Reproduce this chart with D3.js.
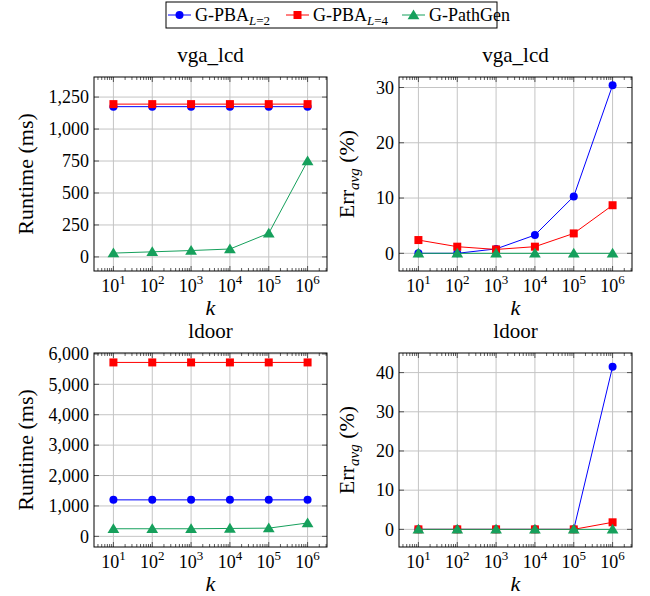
<!DOCTYPE html>
<html lang="en">
  <head>
    <meta charset="UTF-8" />
    <title>Runtime and error vs k</title>
    <script src="https://cdnjs.cloudflare.com/ajax/libs/d3/7.8.5/d3.min.js"></script>
    <style>
      body { margin: 0; background: #fff; }
      text { font-family: "Liberation Serif", "Times New Roman", serif; fill: #000; }
    </style>
  </head>
  <body>
    <div id="chart"></div>
    <script>
      // values
      const ks = [1e1, 1e2, 1e3, 1e4, 1e5, 1e6];
      const seriesNames = ["G-PBA", "G-PBA", "G-PathGen"];
      const seriesSubs = ["L=2", "L=4", ""];
      const colors = ["#0000ff", "#ff0000", "#16a05c"];
      const markers = ["circle", "square", "triangle"];

      const vgaRuntimePba2 = [1175, 1175, 1175, 1175, 1175, 1175];
      const vgaRuntimePba4 = [1195, 1195, 1195, 1195, 1195, 1195];
      const vgaRuntimePath = [30, 40, 50, 62, 185, 750];

      const vgaErrPba2 = [0, 0, 0.8, 3.3, 10.3, 30.4];
      const vgaErrPba4 = [2.4, 1.2, 0.7, 1.2, 3.6, 8.7];
      const vgaErrPath = [0, 0, 0, 0, 0, 0];

      const ldoorRuntimePba2 = [1200, 1200, 1200, 1200, 1200, 1200];
      const ldoorRuntimePba4 = [5720, 5720, 5720, 5720, 5720, 5720];
      const ldoorRuntimePath = [250, 250, 250, 260, 270, 440];

      const ldoorErrPba2 = [0, 0, 0, 0, 0, 41.5];
      const ldoorErrPba4 = [0, 0, 0, 0, 0, 1.8];
      const ldoorErrPath = [0, 0, 0, 0, 0, 0];

      const runtimeTicksVga = [0, 250, 500, 750, 1000, 1250];
      const errTicksVga = [0, 10, 20, 30];
      const runtimeTicksLdoor = [0, 1000, 2000, 3000, 4000, 5000, 6000];
      const errTicksLdoor = [0, 10, 20, 30, 40];

      const width = 650;
      const height = 596;

      const svg = d3
        .select("#chart")
        .append("svg")
        .attr("width", width)
        .attr("height", height);

      const panels = [
        { title: "vga_lcd", ylabel: "runtime", left: 94, top: 77, yDomain: [-110, 1407], ticks: runtimeTicksVga,
          data: [vgaRuntimePba2, vgaRuntimePba4, vgaRuntimePath] },
        { title: "vga_lcd", ylabel: "err", left: 399, top: 77, yDomain: [-3.2, 31.9], ticks: errTicksVga,
          data: [vgaErrPba2, vgaErrPba4, vgaErrPath] },
        { title: "ldoor", ylabel: "runtime", left: 94, top: 353, yDomain: [-350, 6030], ticks: runtimeTicksLdoor,
          data: [ldoorRuntimePba2, ldoorRuntimePba4, ldoorRuntimePath] },
        { title: "ldoor", ylabel: "err", left: 399, top: 353, yDomain: [-4.5, 45], ticks: errTicksLdoor,
          data: [ldoorErrPba2, ldoorErrPba4, ldoorErrPath] },
      ];
      const pw = 233;
      const ph = 194;

      const fmt = d3.format(",");

      function drawMarker(g, type, x, y, color) {
        if (type === "circle") {
          g.append("circle").attr("cx", x).attr("cy", y).attr("r", 4).attr("fill", color);
        } else if (type === "square") {
          g.append("rect").attr("x", x - 4).attr("y", y - 4).attr("width", 8).attr("height", 8).attr("fill", color);
        } else {
          const s = 5.6;
          g.append("path")
            .attr("d", `M${x},${y - s} L${x + s * 1.05},${y + s * 0.75} L${x - s * 1.05},${y + s * 0.75}Z`)
            .attr("fill", color);
        }
      }

      panels.forEach((p) => {
        const x = d3.scaleLog().domain([Math.pow(10, 0.5), Math.pow(10, 6.5)]).range([p.left, p.left + pw]);
        const y = d3.scaleLinear().domain(p.yDomain).range([p.top + ph, p.top]);
        const g = svg.append("g");

        // grid
        g.selectAll(".gx").data(ks).join("line")
          .attr("x1", (d) => x(d)).attr("x2", (d) => x(d))
          .attr("y1", p.top).attr("y2", p.top + ph)
          .attr("stroke", "#c4c4c4").attr("stroke-width", 1);
        g.selectAll(".gy").data(p.ticks).join("line")
          .attr("x1", p.left).attr("x2", p.left + pw)
          .attr("y1", (d) => y(d)).attr("y2", (d) => y(d))
          .attr("stroke", "#c4c4c4").attr("stroke-width", 1);

        // minor ticks on the log axis
        const minors = [];
        for (let e = 0; e <= 6; e++) {
          for (let m = 2; m <= 9; m++) {
            const v = m * Math.pow(10, e);
            if (v > x.domain()[0] && v < x.domain()[1]) minors.push(v);
          }
        }
        const tick = g.append("g").attr("stroke", "#333").attr("stroke-width", 0.8);
        minors.forEach((v) => {
          tick.append("line").attr("x1", x(v)).attr("x2", x(v)).attr("y1", p.top + ph).attr("y2", p.top + ph - 3);
          tick.append("line").attr("x1", x(v)).attr("x2", x(v)).attr("y1", p.top).attr("y2", p.top + 3);
        });
        ks.forEach((v) => {
          tick.append("line").attr("x1", x(v)).attr("x2", x(v)).attr("y1", p.top + ph).attr("y2", p.top + ph - 5);
          tick.append("line").attr("x1", x(v)).attr("x2", x(v)).attr("y1", p.top).attr("y2", p.top + 5);
        });
        p.ticks.forEach((v) => {
          tick.append("line").attr("x1", p.left).attr("x2", p.left + 5).attr("y1", y(v)).attr("y2", y(v));
          tick.append("line").attr("x1", p.left + pw).attr("x2", p.left + pw - 5).attr("y1", y(v)).attr("y2", y(v));
        });

        // series
        const line = d3.line().x((d) => x(d[0])).y((d) => y(d[1]));
        p.data.forEach((vals, i) => {
          const pts = ks.map((k, j) => [k, vals[j]]);
          g.append("path").attr("d", line(pts)).attr("fill", "none")
            .attr("stroke", colors[i]).attr("stroke-width", 1);
          pts.forEach((d) => drawMarker(g, markers[i], x(d[0]), y(d[1]), colors[i]));
        });

        // frame
        g.append("rect").attr("x", p.left).attr("y", p.top).attr("width", pw).attr("height", ph)
          .attr("fill", "none").attr("stroke", "#000").attr("stroke-width", 1);

        // y tick labels
        g.selectAll(".yl").data(p.ticks).join("text")
          .attr("x", p.left - 5).attr("y", (d) => y(d)).attr("dy", "0.35em")
          .attr("text-anchor", "end").attr("font-size", 18)
          .text((d) => fmt(d));

        // x tick labels
        ks.forEach((v) => {
          const t = g.append("text").attr("x", x(v)).attr("y", p.top + ph + 21)
            .attr("text-anchor", "middle").attr("font-size", 18);
          t.append("tspan").text("10");
          t.append("tspan").attr("dy", -8).attr("font-size", 13).text(Math.log10(v));
        });

        // title
        g.append("text").attr("x", p.left + pw / 2).attr("y", p.top - 15)
          .attr("text-anchor", "middle").attr("font-size", 21).text(p.title);

        // x label
        g.append("text").attr("x", p.left + pw / 2).attr("y", p.top + ph + 44)
          .attr("text-anchor", "middle").attr("font-size", 22).attr("font-style", "italic").text("k");

        // y label
        const lx = p.ylabel === "runtime" ? p.left - 61 : p.left - 45;
        const yl = g.append("text")
          .attr("transform", `translate(${lx},${p.top + ph / 2}) rotate(-90)`)
          .attr("text-anchor", "middle").attr("font-size", 22);
        if (p.ylabel === "runtime") {
          yl.text("Runtime (ms)");
        } else {
          yl.append("tspan").text("Err");
          yl.append("tspan").attr("dy", 5).attr("font-size", 15).attr("font-style", "italic").text("avg");
          yl.append("tspan").attr("dy", -5).text(" (%)");
        }
      });

      // legend
      const legend = svg.append("g");
      legend.append("rect").attr("x", 166).attr("y", 2).attr("width", 331).attr("height", 26)
        .attr("fill", "#fff").attr("stroke", "#000").attr("stroke-width", 1);
      const legendX = [168, 286, 402];
      seriesNames.forEach((name, i) => {
        const lx = legendX[i];
        legend.append("line").attr("x1", lx).attr("x2", lx + 23).attr("y1", 15).attr("y2", 15)
          .attr("stroke", colors[i]).attr("stroke-width", 1);
        drawMarker(legend, markers[i], lx + 11.5, 15, colors[i]);
        const t = legend.append("text").attr("x", lx + 27).attr("y", 21).attr("font-size", 18);
        t.append("tspan").text(name);
        if (seriesSubs[i]) {
          const sub = seriesSubs[i];
          t.append("tspan").attr("dy", 4).attr("font-size", 13).attr("font-style", "italic").text(sub[0]);
          t.append("tspan").attr("font-size", 13).text(sub.slice(1));
        }
      });
    </script>
  </body>
</html>
